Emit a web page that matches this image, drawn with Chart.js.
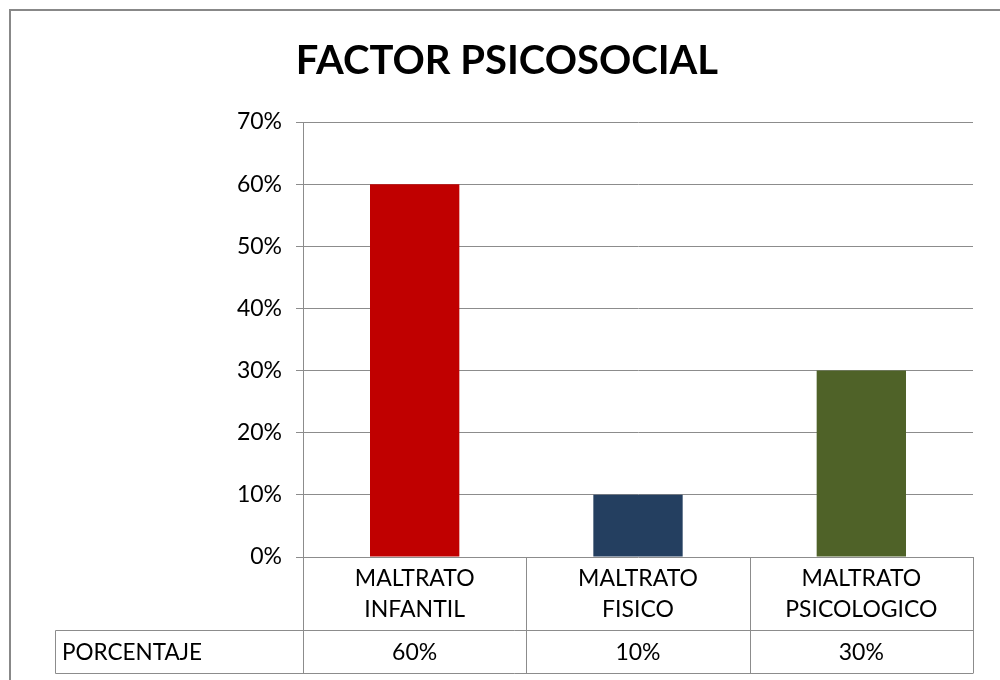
<!DOCTYPE html>
<html>
<head>
<meta charset="utf-8">
<script src="https://cdn.jsdelivr.net/npm/chart.js@4/dist/chart.umd.min.js"></script>
<style>
  html, body { margin: 0; padding: 0; background: #fff; overflow: hidden; }
  #wrap { width: 1000px; height: 680px; }
</style>
</head>
<body>
<div id="wrap"><canvas id="chart" width="1000" height="680"></canvas></div>
<script>
const titleText = 'FACTOR PSICOSOCIAL';
const categories = [['MALTRATO', 'INFANTIL'], ['MALTRATO', 'FISICO'], ['MALTRATO', 'PSICOLOGICO']];
const values = [60, 10, 30];
const barColors = ['#C00000', '#243F60', '#4F6228'];
const rowLabel = 'PORCENTAJE';
const yTicks = [0, 10, 20, 30, 40, 50, 60, 70];

const FONT = 'Lato, "Open Sans", sans-serif';
const GRID = '#8c8c8c';
const PAD_LEFT = 41;

// marco exterior + tabla de datos debajo del eje
const tablePlugin = {
  id: 'tabla',
  beforeDraw(chart) {
    const ctx = chart.ctx;
    ctx.save();
    ctx.strokeStyle = '#888';
    ctx.lineWidth = 2;
    ctx.strokeRect(10, 10, 1100, 800);
    ctx.restore();
  },
  afterDraw(chart) {
    const ctx = chart.ctx;
    const area = chart.chartArea;
    const x = chart.scales.x;
    const top = area.bottom;
    const mid = 630.5;
    const bot = 673.5;
    const leftEdge = 55.5;
    const step = (area.right - area.left) / categories.length;

    ctx.save();
    ctx.strokeStyle = GRID;
    ctx.lineWidth = 1;
    ctx.beginPath();
    ctx.moveTo(leftEdge, mid); ctx.lineTo(area.right, mid);
    ctx.moveTo(leftEdge, bot); ctx.lineTo(area.right, bot);
    ctx.moveTo(leftEdge, mid); ctx.lineTo(leftEdge, bot);
    for (let i = 0; i <= categories.length; i++) {
      const px = Math.round(area.left + i * step) + 0.5;
      ctx.moveTo(px, top); ctx.lineTo(px, bot);
    }
    ctx.stroke();

    ctx.fillStyle = '#000';
    ctx.font = '23px ' + FONT;
    ctx.textAlign = 'center';
    ctx.textBaseline = 'middle';
    categories.forEach((lines, i) => {
      const cx = x.getPixelForValue(i);
      ctx.fillText(lines[0], cx, 579);
      ctx.fillText(lines[1], cx, 610);
      ctx.fillText(values[i] + '%', cx, 653);
    });
    ctx.textAlign = 'left';
    ctx.font = '22.5px ' + FONT;
    ctx.fillText(rowLabel, 62, 653);
    ctx.restore();
  }
};

new Chart(document.getElementById('chart'), {
  type: 'bar',
  data: {
    labels: categories.map(c => c.join(' ')),
    datasets: [{
      data: values,
      backgroundColor: barColors,
      borderWidth: 0,
      barPercentage: 0.4,
      categoryPercentage: 1
    }]
  },
  options: {
    responsive: false,
    animation: false,
    layout: { padding: { left: PAD_LEFT, right: 27, top: 0, bottom: 0 } },
    plugins: {
      legend: { display: false },
      tooltip: { enabled: false },
      title: {
        display: true,
        text: titleText,
        color: '#000',
        font: { family: FONT, size: 40, weight: 'bold' },
        padding: { top: 37, bottom: 37 }
      }
    },
    scales: {
      x: {
        grid: { display: false },
        border: { display: false },
        ticks: { display: false },
        afterFit(scale) { scale.height = 123; }
      },
      y: {
        min: 0,
        max: 70,
        afterBuildTicks(scale) { scale.ticks = yTicks.map(v => ({ value: v })); },
        grid: { color: GRID, lineWidth: 1, tickLength: 7, drawTicks: true },
        border: { display: true, color: GRID, width: 1 },
        ticks: {
          color: '#000',
          padding: 14,
          font: { family: FONT, size: 23 },
          callback: v => v + '%'
        },
        afterFit(scale) { scale.width = 303 - PAD_LEFT; }
      }
    }
  },
  plugins: [tablePlugin]
});
</script>
</body>
</html>
